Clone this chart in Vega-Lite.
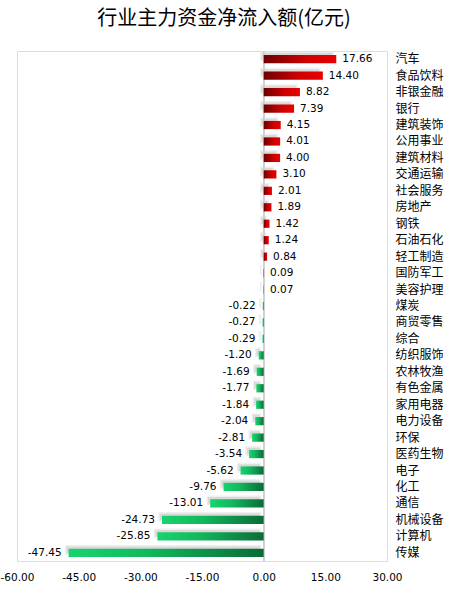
{
  "$schema": "https://vega.github.io/schema/vega-lite/v6.json",
  "width": 370,
  "height": 510,
  "autosize": {"type": "none"},
  "padding": {"left": 17, "top": 51, "right": 62, "bottom": 31},
  "background": "white",
  "config": {
    "locale": {
      "number": {"decimal": ".", "thousands": ",", "grouping": [3], "currency": ["", ""], "minus": "-"}
    }
  },
  "title": {
    "text": "行业主力资金净流入额(亿元)",
    "font": "Noto Sans CJK SC",
    "fontSize": 20,
    "fontWeight": "normal",
    "color": "#000000",
    "anchor": "middle",
    "dx": 22,
    "offset": 22
  },
  "data": {
    "values": [
      {"industry": "汽车", "value": 17.66},
      {"industry": "食品饮料", "value": 14.40},
      {"industry": "非银金融", "value": 8.82},
      {"industry": "银行", "value": 7.39},
      {"industry": "建筑装饰", "value": 4.15},
      {"industry": "公用事业", "value": 4.01},
      {"industry": "建筑材料", "value": 4.00},
      {"industry": "交通运输", "value": 3.10},
      {"industry": "社会服务", "value": 2.01},
      {"industry": "房地产", "value": 1.89},
      {"industry": "钢铁", "value": 1.42},
      {"industry": "石油石化", "value": 1.24},
      {"industry": "轻工制造", "value": 0.84},
      {"industry": "国防军工", "value": 0.09},
      {"industry": "美容护理", "value": 0.07},
      {"industry": "煤炭", "value": -0.22},
      {"industry": "商贸零售", "value": -0.27},
      {"industry": "综合", "value": -0.29},
      {"industry": "纺织服饰", "value": -1.20},
      {"industry": "农林牧渔", "value": -1.69},
      {"industry": "有色金属", "value": -1.77},
      {"industry": "家用电器", "value": -1.84},
      {"industry": "电力设备", "value": -2.04},
      {"industry": "环保", "value": -2.81},
      {"industry": "医药生物", "value": -3.54},
      {"industry": "电子", "value": -5.62},
      {"industry": "化工", "value": -9.76},
      {"industry": "通信", "value": -13.01},
      {"industry": "机械设备", "value": -24.73},
      {"industry": "计算机", "value": -25.85},
      {"industry": "传媒", "value": -47.45}
    ]
  },
  "encoding": {
    "y": {
      "field": "industry",
      "type": "nominal",
      "sort": null,
      "scale": {"paddingInner": 0.5, "paddingOuter": 0.25},
      "axis": {
        "orient": "right",
        "title": null,
        "ticks": false,
        "domain": false,
        "labelPadding": 8,
        "labelFont": "Noto Sans CJK SC",
        "labelFontSize": 12,
        "labelColor": "#000000"
      }
    },
    "x": {
      "field": "value",
      "type": "quantitative",
      "scale": {"domain": [-60, 30], "nice": false},
      "axis": {
        "title": null,
        "values": [-60, -45, -30, -15, 0, 15, 30],
        "format": ".2f",
        "grid": false,
        "ticks": false,
        "domain": false,
        "labelFlush": false,
        "labelOverlap": false,
        "labelBound": false,
        "labelPadding": 11,
        "labelFont": "DejaVu Sans",
        "labelFontSize": 10.5,
        "labelColor": "#000000"
      }
    }
  },
  "layer": [
    {
      "mark": {"type": "bar", "color": "#b4b4b4", "opacity": 0.5, "stroke": "#e2e2e2", "strokeWidth": 1.5, "xOffset": -3, "yOffset": -3}
    },
    {
      "mark": {"type": "rule", "color": "#d0d0d0", "strokeWidth": 1},
      "encoding": {"x": {"datum": 0, "type": "quantitative"}, "y": null}
    },
    {
      "transform": [{"filter": "datum.value > 0"}],
      "mark": {
        "type": "bar",
        "color": {
          "gradient": "linear",
          "x1": 0, "y1": 0, "x2": 1, "y2": 0,
          "stops": [
            {"offset": 0, "color": "#6e0000"},
            {"offset": 0.6, "color": "#d00000"},
            {"offset": 1, "color": "#e80000"}
          ]
        }
      }
    },
    {
      "transform": [{"filter": "datum.value < 0"}],
      "mark": {
        "type": "bar",
        "color": {
          "gradient": "linear",
          "x1": 0, "y1": 0, "x2": 1, "y2": 0,
          "stops": [
            {"offset": 0, "color": "#17d46e"},
            {"offset": 0.4, "color": "#12b85c"},
            {"offset": 1, "color": "#0b6b38"}
          ]
        }
      }
    },
    {
      "transform": [{"filter": "datum.value > 0"}],
      "mark": {"type": "text", "align": "left", "baseline": "middle", "dx": 6, "font": "DejaVu Sans", "fontSize": 10.5, "color": "#000000"},
      "encoding": {"text": {"field": "value", "type": "quantitative", "format": ".2f"}}
    },
    {
      "transform": [{"filter": "datum.value < 0"}],
      "mark": {"type": "text", "align": "right", "baseline": "middle", "dx": -7, "font": "DejaVu Sans", "fontSize": 10.5, "color": "#000000"},
      "encoding": {"text": {"field": "value", "type": "quantitative", "format": ".2f"}}
    }
  ]
}
